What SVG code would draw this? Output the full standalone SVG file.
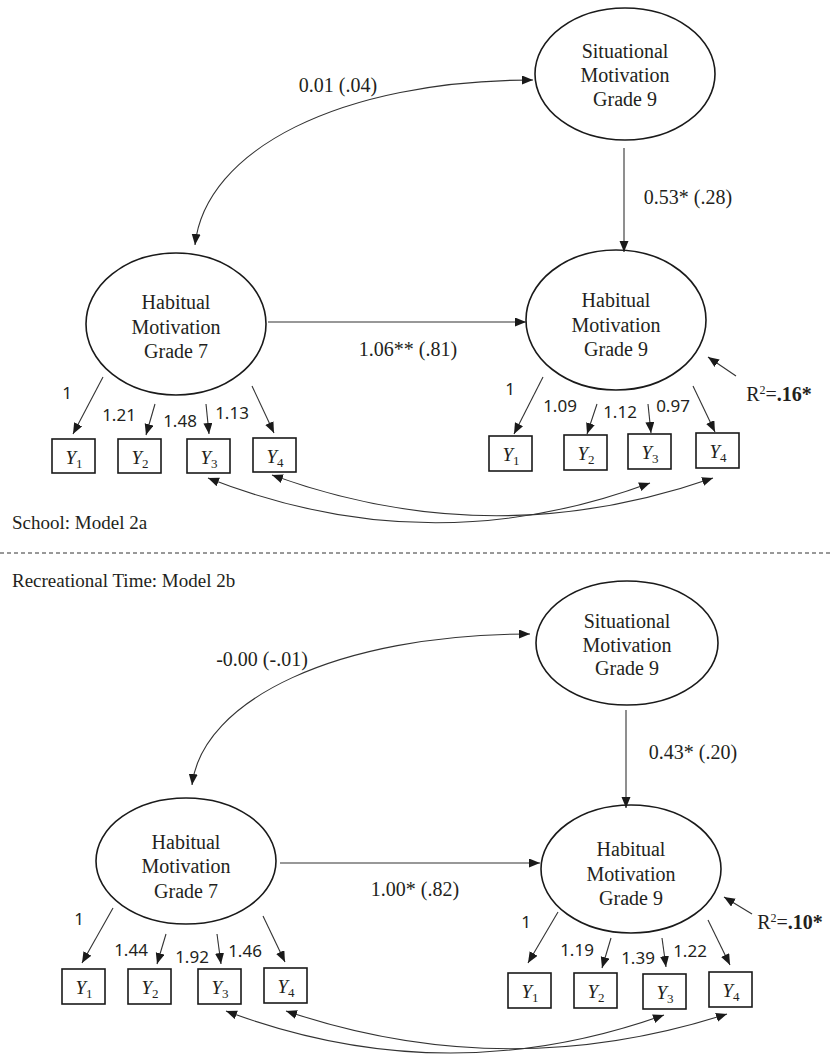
<svg xmlns="http://www.w3.org/2000/svg" width="831" height="1057" viewBox="0 0 831 1057">
<defs>
<style>
.lat{fill:#fff;stroke:#1a1a1a;stroke-width:1.6}
.obs{fill:#fff;stroke:#1a1a1a;stroke-width:1.6}
.nt{font-family:"Liberation Serif","Times New Roman",serif;font-size:20px;fill:#231f20;text-anchor:middle}
.yt{font-family:"Liberation Serif","Times New Roman",serif;font-size:19px;fill:#231f20;text-anchor:middle}
.sub{font-size:13px;font-style:normal}
.ln{fill:none;stroke:#333;stroke-width:1.1}
.arr{marker-end:url(#ah)}
.bi{marker-start:url(#ah);marker-end:url(#ah)}
.ld{font-family:"Noto Sans","Open Sans",sans-serif;font-size:17px;fill:#231f20;text-anchor:middle}
.lb{font-family:"Liberation Serif","Times New Roman",serif;font-size:20px;fill:#231f20;text-anchor:middle}
.tt{font-family:"Liberation Serif","Times New Roman",serif;font-size:19px;fill:#231f20}
</style>
<marker id="ah" markerUnits="userSpaceOnUse" markerWidth="12" markerHeight="10" viewBox="0 0 12 10" refX="11" refY="4.5" orient="auto-start-reverse"><path d="M0,0 L11,4.5 L0,9 z" fill="#1a1a1a"/></marker>
</defs>
<rect width="831" height="1057" fill="#fff"/>

<!-- ===== Model 2a ===== -->
<g id="sit9a">
<ellipse class="lat" cx="625" cy="74" rx="90" ry="66"/>
<text class="nt" x="625" y="58">Situational</text>
<text class="nt" x="625" y="82">Motivation</text>
<text class="nt" x="625" y="106">Grade 9</text>
</g>
<g id="hab7a">
<ellipse class="lat" cx="176" cy="324" rx="90" ry="71"/>
<text class="nt" x="176" y="309">Habitual</text>
<text class="nt" x="176" y="334">Motivation</text>
<text class="nt" x="176" y="358">Grade 7</text>
</g>
<g id="hab9a">
<ellipse class="lat" cx="616" cy="320" rx="90" ry="70"/>
<text class="nt" x="616" y="307">Habitual</text>
<text class="nt" x="616" y="332">Motivation</text>
<text class="nt" x="616" y="356">Grade 9</text>
</g>
<g id="a7y1"><rect class="obs" x="52" y="439" width="43" height="34"/><text class="yt" x="74" y="464"><tspan font-style="italic">Y</tspan><tspan class="sub" dy="4">1</tspan></text></g>
<g id="a7y2"><rect class="obs" x="118" y="439" width="43" height="34"/><text class="yt" x="140" y="464"><tspan font-style="italic">Y</tspan><tspan class="sub" dy="4">2</tspan></text></g>
<g id="a7y3"><rect class="obs" x="187" y="439" width="43" height="34"/><text class="yt" x="209" y="464"><tspan font-style="italic">Y</tspan><tspan class="sub" dy="4">3</tspan></text></g>
<g id="a7y4"><rect class="obs" x="253" y="438" width="43" height="34"/><text class="yt" x="275" y="463"><tspan font-style="italic">Y</tspan><tspan class="sub" dy="4">4</tspan></text></g>
<g id="a9y1"><rect class="obs" x="489" y="436" width="43" height="35"/><text class="yt" x="511" y="461"><tspan font-style="italic">Y</tspan><tspan class="sub" dy="4">1</tspan></text></g>
<g id="a9y2"><rect class="obs" x="564" y="435" width="43" height="35"/><text class="yt" x="586" y="460"><tspan font-style="italic">Y</tspan><tspan class="sub" dy="4">2</tspan></text></g>
<g id="a9y3"><rect class="obs" x="628" y="434" width="43" height="35"/><text class="yt" x="650" y="459"><tspan font-style="italic">Y</tspan><tspan class="sub" dy="4">3</tspan></text></g>
<g id="a9y4"><rect class="obs" x="696" y="433" width="43" height="35"/><text class="yt" x="718" y="458"><tspan font-style="italic">Y</tspan><tspan class="sub" dy="4">4</tspan></text></g>

<!-- ===== Model 2b ===== -->
<g id="sit9b">
<ellipse class="lat" cx="627" cy="643" rx="91" ry="62"/>
<text class="nt" x="627" y="628">Situational</text>
<text class="nt" x="627" y="652">Motivation</text>
<text class="nt" x="627" y="675">Grade 9</text>
</g>
<g id="hab7b">
<ellipse class="lat" cx="186" cy="861" rx="90" ry="63"/>
<text class="nt" x="186" y="849">Habitual</text>
<text class="nt" x="186" y="873">Motivation</text>
<text class="nt" x="186" y="898">Grade 7</text>
</g>
<g id="hab9b">
<ellipse class="lat" cx="631" cy="869" rx="90" ry="64"/>
<text class="nt" x="631" y="856">Habitual</text>
<text class="nt" x="631" y="881">Motivation</text>
<text class="nt" x="631" y="905">Grade 9</text>
</g>
<g id="b7y1"><rect class="obs" x="62" y="969" width="43" height="35"/><text class="yt" x="84" y="994"><tspan font-style="italic">Y</tspan><tspan class="sub" dy="4">1</tspan></text></g>
<g id="b7y2"><rect class="obs" x="128" y="969" width="43" height="35"/><text class="yt" x="150" y="994"><tspan font-style="italic">Y</tspan><tspan class="sub" dy="4">2</tspan></text></g>
<g id="b7y3"><rect class="obs" x="198" y="969" width="43" height="35"/><text class="yt" x="220" y="994"><tspan font-style="italic">Y</tspan><tspan class="sub" dy="4">3</tspan></text></g>
<g id="b7y4"><rect class="obs" x="264" y="968" width="43" height="35"/><text class="yt" x="286" y="993"><tspan font-style="italic">Y</tspan><tspan class="sub" dy="4">4</tspan></text></g>
<g id="b9y1"><rect class="obs" x="508" y="973" width="43" height="35"/><text class="yt" x="530" y="998"><tspan font-style="italic">Y</tspan><tspan class="sub" dy="4">1</tspan></text></g>
<g id="b9y2"><rect class="obs" x="574" y="973" width="43" height="35"/><text class="yt" x="596" y="998"><tspan font-style="italic">Y</tspan><tspan class="sub" dy="4">2</tspan></text></g>
<g id="b9y3"><rect class="obs" x="643" y="974" width="43" height="35"/><text class="yt" x="665" y="999"><tspan font-style="italic">Y</tspan><tspan class="sub" dy="4">3</tspan></text></g>
<g id="b9y4"><rect class="obs" x="709" y="972" width="43" height="35"/><text class="yt" x="731" y="997"><tspan font-style="italic">Y</tspan><tspan class="sub" dy="4">4</tspan></text></g>

<!-- ===== Connectors ===== -->
<g id="connectors">
<path class="ln bi" d="M533,80 C340,80 205,150 195,245"/>
<path class="ln arr" d="M624,148 L624,252"/>
<path class="ln arr" d="M268,322 L526,322"/>
<path class="ln arr" d="M736,376 L708,357"/>
<path class="ln arr" d="M103,377 L73,434"/>
<path class="ln arr" d="M155,404 L146,435"/>
<path class="ln arr" d="M206,404 L209,434"/>
<path class="ln arr" d="M252,386 L274,433"/>
<path class="ln arr" d="M543,377 L514,434"/>
<path class="ln arr" d="M597,404 L587,434"/>
<path class="ln arr" d="M648,404 L651,433"/>
<path class="ln arr" d="M693,386 L715,432"/>
<path class="ln bi" d="M208,478 Q429,565 650,483"/>
<path class="ln bi" d="M272,475 Q492,555 713,478"/>

<path class="ln bi" d="M530,634 C337,634 202,700 192,785"/>
<path class="ln arr" d="M626,710 L626,808"/>
<path class="ln arr" d="M280,863 L540,863"/>
<path class="ln arr" d="M752,914 L724,897"/>
<path class="ln arr" d="M113,908 L82,963"/>
<path class="ln arr" d="M166,934 L157,964"/>
<path class="ln arr" d="M217,934 L221,964"/>
<path class="ln arr" d="M263,916 L285,962"/>
<path class="ln arr" d="M558,912 L528,963"/>
<path class="ln arr" d="M611,938 L602,968"/>
<path class="ln arr" d="M662,938 L666,967"/>
<path class="ln arr" d="M708,920 L730,965"/>
<path class="ln bi" d="M226,1011 Q445,1093 664,1015"/>
<path class="ln bi" d="M286,1011 Q506,1085 727,1014"/>
</g>

<!-- ===== Labels ===== -->
<g id="labels">
<text class="lb" x="338" y="92">0.01 (.04)</text>
<text class="lb" x="688" y="204">0.53* (.28)</text>
<text class="lb" x="408" y="356">1.06** (.81)</text>
<text class="lb" x="779" y="401">R<tspan font-size="12" dy="-7">2</tspan><tspan dy="7">=</tspan><tspan font-weight="bold">.16*</tspan></text>
<text class="ld" x="67" y="399">1</text>
<text class="ld" x="119" y="421">1.21</text>
<text class="ld" x="180" y="427">1.48</text>
<text class="ld" x="232" y="419">1.13</text>
<text class="ld" x="510" y="395">1</text>
<text class="ld" x="560" y="412">1.09</text>
<text class="ld" x="620" y="418">1.12</text>
<text class="ld" x="673" y="412">0.97</text>
<text class="tt" x="12" y="529">School: Model 2a</text>

<line x1="0" y1="553" x2="831" y2="553" stroke="#333" stroke-width="1" stroke-dasharray="4,3"/>

<text class="tt" x="12" y="587">Recreational Time: Model 2b</text>
<text class="lb" x="262" y="666">-0.00 (-.01)</text>
<text class="lb" x="693" y="759">0.43* (.20)</text>
<text class="lb" x="415" y="896">1.00* (.82)</text>
<text class="lb" x="790" y="929">R<tspan font-size="12" dy="-7">2</tspan><tspan dy="7">=</tspan><tspan font-weight="bold">.10*</tspan></text>
<text class="ld" x="79" y="925">1</text>
<text class="ld" x="131" y="956">1.44</text>
<text class="ld" x="192" y="963">1.92</text>
<text class="ld" x="245" y="957">1.46</text>
<text class="ld" x="526" y="928">1</text>
<text class="ld" x="577" y="956">1.19</text>
<text class="ld" x="638" y="964">1.39</text>
<text class="ld" x="690" y="957">1.22</text>
</g>
</svg>
